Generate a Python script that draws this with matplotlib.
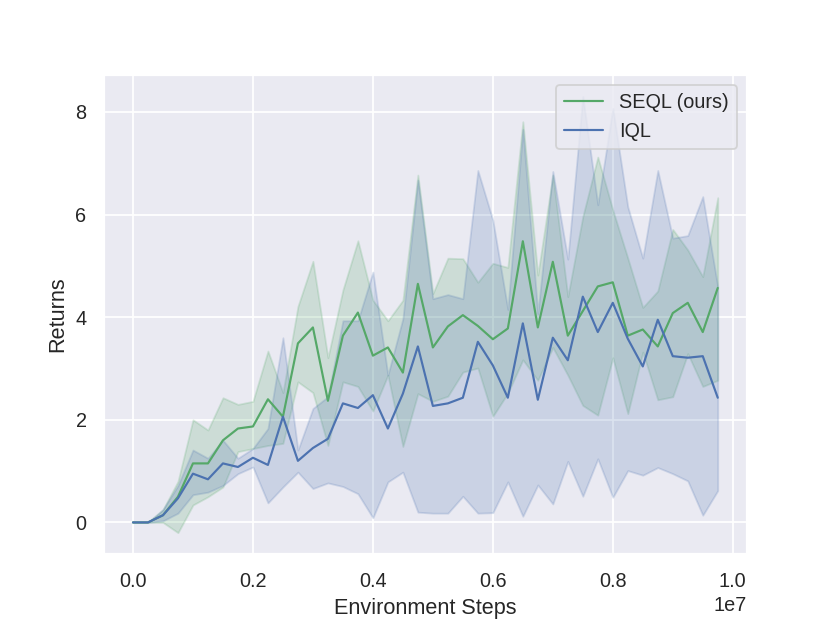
import numpy as np
import matplotlib
matplotlib.use("Agg")
import matplotlib.pyplot as plt
import seaborn as sns

steps = np.arange(40) * 0.25e6

seql_mean = [0, 0, 0.14, 0.5, 1.15, 1.15, 1.6, 1.83, 1.87, 2.4,
             2.06, 3.49, 3.8, 2.37, 3.64, 4.09, 3.25, 3.41, 2.92, 4.65,
             3.41, 3.82, 4.04, 3.83, 3.57, 3.78, 5.48, 3.8, 5.08, 3.64,
             4.12, 4.6, 4.68, 3.64, 3.76, 3.43, 4.08, 4.28, 3.71, 4.57]
seql_upper = [0, 0, 0.25, 0.8, 2.0, 1.8, 2.43, 2.3, 2.36, 3.34,
              2.53, 4.21, 5.09, 3.21, 4.53, 5.49, 4.33, 3.93, 4.33, 6.77,
              4.46, 5.15, 5.14, 4.68, 5.05, 4.97, 7.81, 4.82, 6.77, 4.4,
              5.96, 7.12, 6.09, 5.15, 4.19, 4.51, 5.71, 5.31, 4.79, 6.33]
seql_lower = [0, 0, 0.0, -0.2, 0.34, 0.5, 0.69, 1.38, 1.44, 1.5,
              1.54, 2.74, 2.53, 1.5, 2.74, 2.65, 2.17, 2.87, 1.48, 2.51,
              2.36, 2.46, 2.93, 3.01, 2.07, 2.52, 3.17, 2.77, 3.41, 2.87,
              2.28, 2.09, 3.21, 2.12, 3.32, 2.39, 2.45, 3.29, 2.65, 2.77]

iql_mean = [0, 0, 0.14, 0.47, 0.95, 0.84, 1.15, 1.08, 1.26, 1.12,
            2.06, 1.2, 1.45, 1.63, 2.32, 2.23, 2.48, 1.83, 2.51, 3.43,
            2.27, 2.32, 2.43, 3.52, 3.06, 2.43, 3.88, 2.39, 3.6, 3.16,
            4.4, 3.71, 4.28, 3.58, 3.04, 3.95, 3.24, 3.21, 3.24, 2.43]
iql_upper = [0, 0, 0.25, 0.72, 1.41, 1.25, 1.6, 1.25, 1.44, 1.83,
             3.6, 1.41, 2.22, 2.45, 3.93, 3.93, 4.88, 2.87, 3.97, 6.67,
             4.36, 4.44, 4.36, 6.86, 5.89, 4.15, 7.66, 4.07, 6.84, 5.13,
             8.3, 6.19, 8.07, 6.15, 5.15, 6.86, 5.54, 5.59, 6.35, 4.59]
iql_lower = [0, 0, 0.03, 0.18, 0.54, 0.59, 0.72, 0.95, 1.08, 0.38,
             0.69, 0.98, 0.66, 0.77, 0.7, 0.56, 0.09, 0.79, 0.98, 0.2,
             0.18, 0.18, 0.51, 0.18, 0.19, 0.79, 0.12, 0.73, 0.36, 1.19,
             0.51, 1.24, 0.49, 1.01, 0.92, 1.07, 0.95, 0.81, 0.14, 0.62]

sns.set_theme(style="darkgrid")
plt.rcParams['font.family'] = ['Arial', 'Liberation Sans', 'DejaVu Sans']

fig, ax = plt.subplots(figsize=(830 / 130, 623 / 130), dpi=130)
green = "#55a868"
blue = "#4c72b0"

ax.plot(steps, seql_mean, color=green, lw=1.2, label="SEQL (ours)")
ax.fill_between(steps, seql_lower, seql_upper, color=green, alpha=0.2, lw=1)
ax.plot(steps, iql_mean, color=blue, lw=1.2, label="IQL")
ax.fill_between(steps, iql_lower, iql_upper, color=blue, alpha=0.2, lw=1)

ax.set_xlabel("Environment Steps")
ax.set_ylabel("Returns")
ax.set_yticks([0, 2, 4, 6, 8])
ax.legend(loc="upper right")

fig.savefig("out.png", dpi=130)
